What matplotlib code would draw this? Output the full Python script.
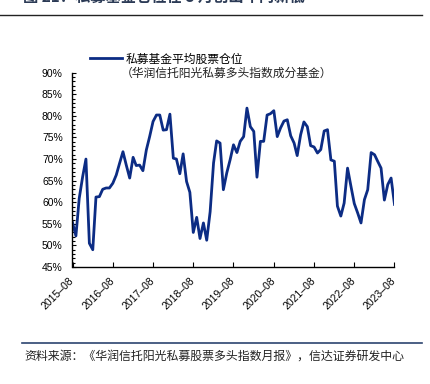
import matplotlib
matplotlib.use("Agg")
import matplotlib.pyplot as plt
import matplotlib.ticker as mticker
import pandas as pd

plt.rcParams['font.family'] = ['Liberation Sans', 'Noto Sans CJK SC', 'DejaVu Sans']

# ---- data ----
start_month = "2015-08"
end_month = "2023-08"
position = [
    55.3, 52.2, 60.9, 65.9, 70.0, 50.5, 49.0, 61.2, 61.3, 63.0, 63.3, 63.3,
    64.4, 66.3, 69.0, 71.7, 68.6, 65.6, 70.4, 68.5, 68.6, 67.3, 72.1, 75.2,
    78.7, 80.2, 80.2, 76.7, 76.8, 80.4, 70.2, 70.0, 66.6, 71.2, 64.8, 62.3,
    53.0, 56.5, 51.6, 55.2, 51.2, 57.8, 69.1, 74.2, 73.7, 62.9, 66.8, 69.8,
    73.3, 71.5, 74.1, 75.2, 81.8, 77.5, 76.4, 65.8, 74.1, 74.1, 80.2, 80.5,
    81.2, 75.2, 77.2, 78.8, 79.1, 75.4, 73.7, 70.8, 75.6, 78.6, 77.5, 73.1,
    72.8, 71.4, 72.2, 76.5, 76.8, 69.8, 69.5, 59.1, 56.8, 59.8, 67.9, 63.8,
    59.7, 57.5, 55.2, 60.6, 62.9, 71.5, 71.0, 69.5, 67.9, 60.5, 64.1, 65.6,
    59.5,
]
tick_labels = ["2015–08", "2016–08", "2017–08", "2018–08", "2019–08",
               "2020–08", "2021–08", "2022–08", "2023–08"]
yticks = [45, 50, 55, 60, 65, 70, 75, 80, 85, 90]
series_name = "私募基金平均股票仓位"
series_note = "（华润信托阳光私募多头指数成分基金）"
title = "图 21：私募基金仓位在 8 月创出年内新低"
source = "资料来源：《华润信托阳光私募股票多头指数月报》，信达证券研发中心"

dates = pd.date_range(start_month, end_month, freq="MS")
tick_dates = pd.date_range(start_month, end_month, freq="12MS")

W, H = 431, 384
fig = plt.figure(figsize=(W / 100, H / 100), dpi=100)
ax = fig.add_axes([72.5 / W, 1 - 267 / H, (394.5 - 72.5) / W, (267 - 72.7) / H])

line_color = "#0c2c84"
ax.plot(dates, position, color=line_color, lw=2.0, label=series_name,
        solid_joinstyle="round")

ax.set_xlim(dates[0], dates[-1])
ax.set_ylim(45, 90)
ax.set_yticks(yticks)
ax.yaxis.set_major_formatter(mticker.FuncFormatter(lambda v, p: f"{v:.0f}%"))
ax.yaxis.set_minor_locator(mticker.MultipleLocator(1))
ax.set_xticks(tick_dates)
ax.set_xticklabels(tick_labels, rotation=45, ha="right", va="center",
                   rotation_mode="anchor")
ax.xaxis.set_minor_locator(mticker.NullLocator())

for s in ["top", "right"]:
    ax.spines[s].set_visible(False)
for s in ["left", "bottom"]:
    ax.spines[s].set_linewidth(1.0)
    ax.spines[s].set_color("black")

ax.tick_params(axis="y", which="major", direction="in", length=3, width=0.8,
               labelsize=7.5, pad=7)
ax.tick_params(axis="y", which="minor", direction="in", length=2, width=0.8)
ax.tick_params(axis="x", which="major", direction="in", length=3.5, width=0.8,
               labelsize=7.5, pad=9)

leg = ax.legend(loc="center left", bbox_to_anchor=(90 / W, 1 - 59 / H),
                bbox_transform=fig.transFigure, frameon=False, borderpad=0,
                borderaxespad=0, handlelength=2.7, handletextpad=0.3,
                prop={"family": ["Noto Sans CJK SC"], "size": 8.5})
fig.text(121 / W, 1 - 73 / H, series_note, ha="left", va="center",
         fontsize=8.5, family=["Noto Sans CJK SC"], color="#222222")

# title (cut off at top as in the reference)
fig.text(23 / W, 1 + 3 / H, title, ha="left", va="center", fontsize=11,
         fontweight="bold", family=["Noto Sans CJK SC"], color="#2b3a55")
fig.add_artist(plt.Line2D([0, 422 / W], [1 - 15 / H, 1 - 15 / H],
                          transform=fig.transFigure, color="#222222", lw=1.0))
fig.add_artist(plt.Line2D([22 / W, 422 / W], [1 - 343 / H, 1 - 343 / H],
                          transform=fig.transFigure, color="#2c4470", lw=1.2))
fig.text(24 / W, 1 - 356 / H, source, ha="left", va="center", fontsize=8.6,
         family=["Noto Sans CJK SC"], color="#222222")

fig.savefig("out.png", dpi=100)
